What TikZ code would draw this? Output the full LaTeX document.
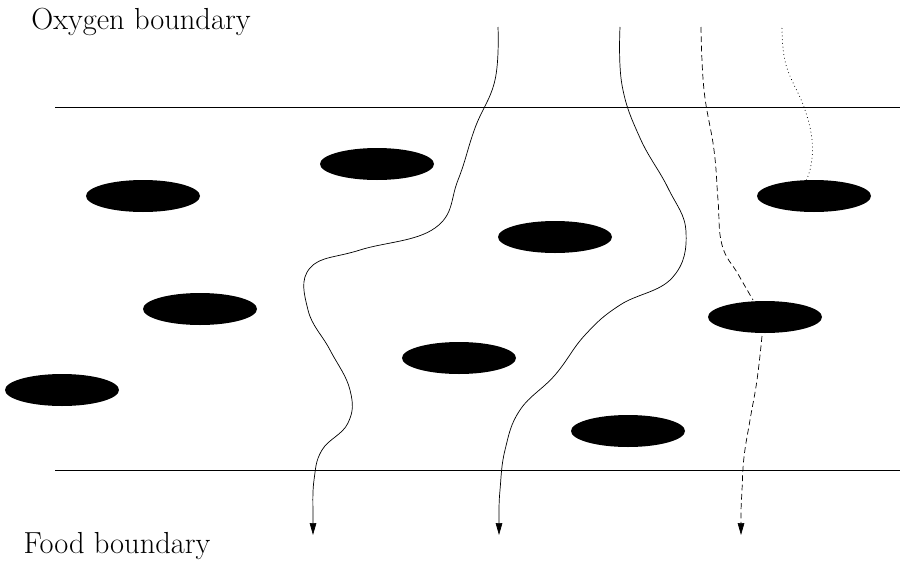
\documentclass[tikz,border=0pt]{standalone}
\usetikzlibrary{arrows.meta}
\begin{document}
\begin{tikzpicture}[x=0.03cm,y=-0.03cm,
  blob/.style={fill=black,draw=none},
  bound/.style={line width=0.75pt},
  path1/.style={line width=0.6pt},
  tip/.style={-{Triangle[length=0.36cm,width=0.2cm]}},
  lbl/.style={font=\fontsize{26}{30}\selectfont,inner sep=0pt,anchor=base}]
\useasboundingbox (0,0) rectangle (900,560);
% boundaries
\coordinate (b1l) at (55,107); \coordinate (b1r) at (900,107);
\coordinate (b2l) at (55,470); \coordinate (b2r) at (900,470);
\draw[bound] (b1l) -- (b1r);
\draw[bound] (b2l) -- (b2r);
\node[lbl] (oxy) at (141,29) {Oxygen boundary};
\node[lbl] (food) at (117,553) {Food boundary};
% particles
\foreach \n/\x/\y in {e1/143/196,e2/377/164,e3/200/309,e4/62/390,e5/555/237,e6/459/358,e7/628/431,e8/814/196,e9/765/317}
  \fill[blob] (\x,\y) ellipse [x radius=57, y radius=16];
% curve 1
\coordinate (a1) at (313,535);
\draw[path1,tip] plot[smooth,tension=0.7] coordinates {(498,27) (495,80) (475,128) (458,180) (435,228) (360,250) (310,268) (308,310) (330,350) (350,390) (348,423) (322,450) (314,480) (313,510)} -- (a1);
% curve 2
\coordinate (a2) at (499,535);
\draw[path1,tip] plot[smooth,tension=0.7] coordinates {(620,27) (622,85) (640,138) (668,188) (686,232) (672,278) (620,305) (585,335) (555,375) (520,410) (505,450) (500,490) (499,512)} -- (a2);
% curve 3 dashed
\coordinate (a3) at (741,535);
\draw[path1,dash pattern=on 5pt off 3pt] plot[smooth,tension=0.7] coordinates {(701,27) (704,90) (714,150) (718,200) (722,245) (738,274) (753,300)};
\draw[path1,dash pattern=on 5pt off 3pt,tip] plot[smooth,tension=0.7] coordinates {(762,336) (757,380) (750,420) (744,457) (742,490) (741,510)} -- (a3);
% curve 4 dotted
\draw[path1,dash pattern=on 0.7pt off 2.5pt] plot[smooth,tension=0.7] coordinates {(782,28) (786,65) (804,107) (812,140) (811,165) (806,181)};
\end{tikzpicture}
\end{document}
